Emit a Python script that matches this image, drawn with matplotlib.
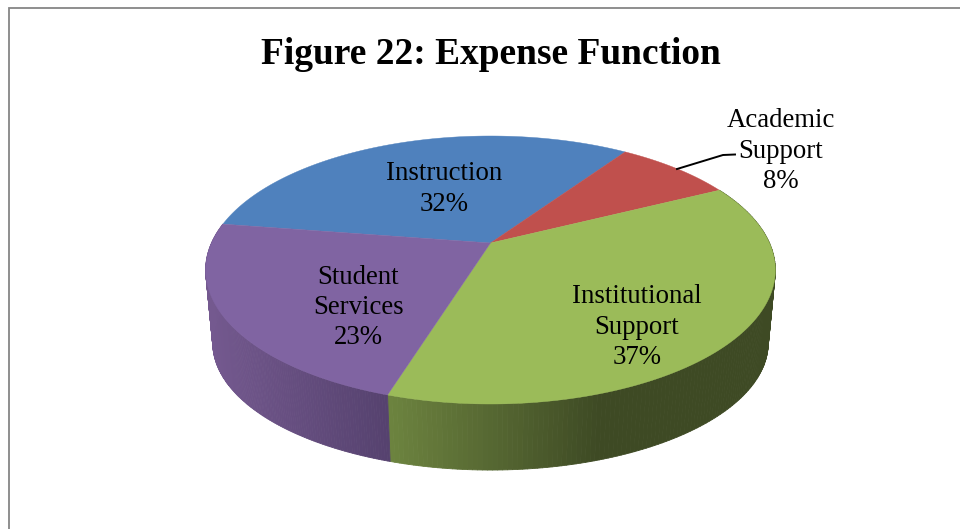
import numpy as np
import matplotlib
matplotlib.use("Agg")
import matplotlib.pyplot as plt
from matplotlib.collections import PolyCollection
from matplotlib.colors import to_rgb

title = "Figure 22: Expense Function"
categories = ["Instruction", "Academic\nSupport", "Institutional\nSupport", "Student\nServices"]
shares = [32.1, 8.1, 37.2, 22.6]
labels = ["32%", "8%", "37%", "23%"]
colors = ["#4F81BD", "#C0504D", "#9BBB59", "#8064A2"]
wall_colors = [None, None, ("#6E8540", "#3E4A24", 600), ("#56426F", "#74598F", 214)]
label_xy = [(444, 189), (781, 151), (637, 327), (358.5, 307.5)]
start_angle = 278.7

W, H = 960, 529
plt.rcParams["font.family"] = ["Liberation Serif", "DejaVu Serif"]
fig = plt.figure(figsize=(W / 100, H / 100), dpi=100)
ax = fig.add_axes([0, 0, 1, 1])
ax.set_xlim(0, W)
ax.set_ylim(H, 0)
ax.axis("off")

# frame
ax.plot([9, 9, W], [H, 8, 8], color="#868686", lw=1.3, solid_joinstyle="miter", zorder=1)

# perspective projection of a unit disc
K, A, B, C = -0.2015, 79.6, 243.0, 279.0
CX = 490.5

def top(theta):
    u, v = np.sin(theta), -np.cos(theta)
    d = 1 + K * v
    return CX + C * u / d, (B + A * v) / d

def bottom(theta):
    x, y = top(theta)
    return CX + (x - CX) * 0.975, 343 + (y - 270) * 0.948

fr = np.array(shares) / sum(shares)
edges = np.radians(start_angle + 360 * np.concatenate([[0], np.cumsum(fr)]))

# side walls
for i, wc in enumerate(wall_colors):
    if wc is None:
        continue
    c0, c1, xend = wc
    c0, c1 = np.array(to_rgb(c0)), np.array(to_rgb(c1))
    th = np.linspace(edges[i], edges[i + 1], 160)
    tx, ty = top(th)
    bx, by = bottom(th)
    quads, cols = [], []
    for j in range(len(th) - 1):
        quads.append([(tx[j], ty[j]), (tx[j + 1], ty[j + 1]), (bx[j + 1], by[j + 1]), (bx[j], by[j])])
        t = np.clip((bx[j] - 388) / (xend - 388), 0, 1)
        cols.append(c0 + (c1 - c0) * t)
    ax.add_collection(PolyCollection(quads, facecolors=cols, edgecolors=cols, linewidths=0.6, zorder=2))

# top faces
for i, col in enumerate(colors):
    th = np.linspace(edges[i], edges[i + 1], 200)
    x, y = top(th)
    ax.fill(np.r_[CX, x], np.r_[B, y], color=col, lw=0.3, zorder=3)

# leader line
ax.plot([677, 723, 735], [169, 155, 154.5], color="black", lw=1.4, zorder=4)

# text
for name, lab, (x, y) in zip(categories, labels, label_xy):
    ax.text(x, y, f"{name}\n{lab}", ha="center", va="center", fontsize=19.3,
            linespacing=1.28, color="black", zorder=5)
ax.text(491, 54, title, ha="center", va="center", fontsize=26.9, fontweight="bold", color="black", zorder=5)

fig.savefig("out.png", dpi=100)
